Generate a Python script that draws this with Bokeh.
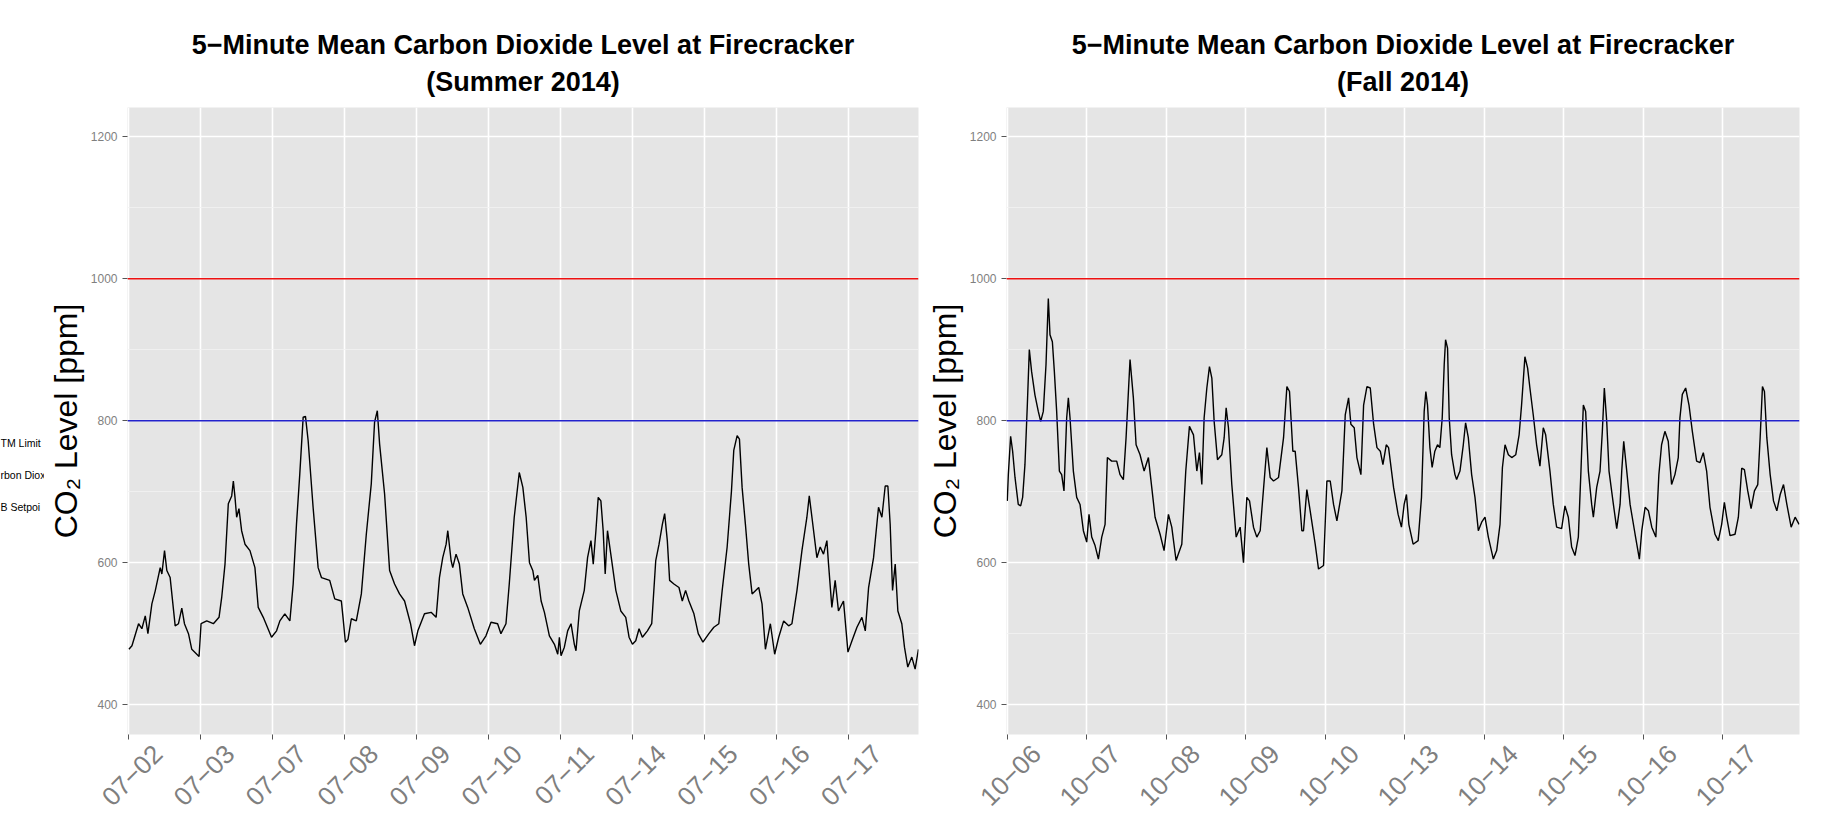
import math
from bokeh.plotting import figure
from bokeh.layouts import row
from bokeh.models import Range1d, FixedTicker, Span, Title, LinearAxis
from bokeh.core.properties import value
from bokeh.embed import file_html
from bokeh.resources import INLINE

FONT = "Liberation Sans"

# ---------------- data ----------------
summer_days = ["07−02", "07−03", "07−07", "07−08", "07−09", "07−10",
               "07−11", "07−14", "07−15", "07−16", "07−17"]
fall_days = ["10−06", "10−07", "10−08", "10−09", "10−10",
             "10−13", "10−14", "10−15", "10−16", "10−17"]

y_ticks = [400, 600, 800, 1000, 1200]
y_minor_ticks = [500, 700, 900, 1100]
limit_values = [1000, 800]
limit_colors = ["#ee1111", "#2222cc"]
legend_fragments = ["TM Limit", "rbon Diox", "B Setpoi"]
legend_fragment_levels = [768, 723, 679]

# position in working-day units (0 = start of first day), 5-min mean CO2 [ppm]
summer_pos = [0.000, 0.042, 0.134, 0.180, 0.227, 0.264, 0.319, 0.365, 0.435, 0.458,
              0.495, 0.527, 0.573, 0.643, 0.689, 0.735, 0.772, 0.828, 0.874, 0.975,
              1.003, 1.082, 1.174, 1.253, 1.290, 1.336, 1.382, 1.429, 1.452, 1.475,
              1.498, 1.530, 1.567, 1.614, 1.683, 1.752, 1.798, 1.868, 1.983, 2.053,
              2.099, 2.168, 2.238, 2.284, 2.330, 2.376, 2.423, 2.455, 2.492, 2.561,
              2.631, 2.677, 2.792, 2.862, 2.954, 2.977, 3.010, 3.046, 3.093, 3.162,
              3.232, 3.301, 3.370, 3.416, 3.454, 3.486, 3.555, 3.625, 3.694, 3.763,
              3.833, 3.916, 3.971, 4.018, 4.110, 4.202, 4.272, 4.318, 4.364, 4.411,
              4.434, 4.480, 4.503, 4.549, 4.595, 4.642, 4.711, 4.803, 4.887, 4.965,
              5.035, 5.127, 5.173, 5.243, 5.289, 5.358, 5.428, 5.478, 5.524, 5.570,
              5.616, 5.639, 5.686, 5.732, 5.778, 5.847, 5.917, 5.963, 5.986, 6.009,
              6.055, 6.101, 6.148, 6.194, 6.217, 6.263, 6.332, 6.378, 6.425, 6.457,
              6.494, 6.526, 6.563, 6.595, 6.623, 6.655, 6.701, 6.771, 6.840, 6.909,
              6.955, 7.002, 7.048, 7.094, 7.140, 7.210, 7.270, 7.326, 7.372, 7.418,
              7.450, 7.487, 7.519, 7.579, 7.649, 7.695, 7.741, 7.787, 7.857, 7.917,
              7.982, 8.065, 8.134, 8.203, 8.250, 8.319, 8.379, 8.411, 8.458, 8.490,
              8.527, 8.573, 8.619, 8.666, 8.758, 8.804, 8.851, 8.920, 8.980, 9.036,
              9.105, 9.174, 9.220, 9.290, 9.359, 9.428, 9.461, 9.498, 9.567, 9.613,
              9.659, 9.706, 9.729, 9.775, 9.821, 9.867, 9.937, 9.999, 10.055, 10.124,
              10.193, 10.240, 10.286, 10.355, 10.424, 10.471, 10.517, 10.554, 10.586, 10.619,
              10.656, 10.693, 10.748, 10.785, 10.831, 10.887, 10.933, 10.979]
summer_co2 = [478, 483, 514, 507, 525, 500, 542, 560, 593, 584,
              617, 589, 579, 511, 514, 536, 514, 500, 478, 468,
              514, 518, 514, 523, 551, 598, 683, 694, 715, 692,
              664, 676, 645, 626, 617, 593, 537, 523, 495, 504,
              518, 528, 518, 570, 654, 725, 805, 806, 772, 678,
              593, 579, 575, 549, 546, 523, 488, 492, 521, 518,
              556, 640, 711, 798, 814, 767, 697, 589, 570, 556,
              546, 514, 483, 504, 528, 530, 523, 579, 607, 626,
              645, 603, 593, 612, 598, 556, 537, 507, 485, 497,
              516, 514, 500, 514, 570, 664, 727, 706, 664, 600,
              589, 575, 582, 546, 530, 497, 485, 471, 495, 469,
              481, 504, 514, 485, 476, 532, 561, 607, 631, 598,
              645, 692, 687, 645, 584, 645, 612, 561, 532, 523,
              495, 485, 490, 507, 495, 504, 514, 603, 626, 654,
              669, 631, 575, 570, 565, 546, 561, 546, 528, 500,
              488, 500, 509, 514, 561, 622, 701, 758, 779, 774,
              706, 654, 598, 556, 565, 542, 478, 514, 471, 495,
              518, 511, 514, 561, 617, 664, 694, 664, 607, 622,
              612, 631, 598, 537, 575, 532, 546, 474, 490, 509,
              523, 504, 565, 607, 678, 664, 708, 708, 654, 561,
              598, 532, 514, 481, 453, 467, 450, 478]

fall_pos = [0.000, 0.013, 0.042, 0.067, 0.097, 0.138, 0.168, 0.193, 0.222, 0.252,
            0.277, 0.306, 0.348, 0.390, 0.420, 0.453, 0.487, 0.516, 0.537, 0.567,
            0.592, 0.621, 0.655, 0.684, 0.713, 0.747, 0.768, 0.789, 0.831, 0.873,
            0.915, 0.957, 0.999, 1.028, 1.062, 1.104, 1.146, 1.188, 1.230, 1.259,
            1.313, 1.376, 1.418, 1.460, 1.494, 1.515, 1.544, 1.586, 1.620, 1.670,
            1.721, 1.775, 1.817, 1.859, 1.922, 1.972, 2.027, 2.069, 2.123, 2.195,
            2.245, 2.291, 2.342, 2.384, 2.417, 2.447, 2.476, 2.510, 2.543, 2.573,
            2.602, 2.644, 2.698, 2.728, 2.753, 2.782, 2.824, 2.879, 2.929, 2.971,
            3.013, 3.047, 3.097, 3.139, 3.181, 3.231, 3.265, 3.307, 3.349, 3.412,
            3.475, 3.517, 3.550, 3.592, 3.621, 3.663, 3.705, 3.726, 3.768, 3.810,
            3.873, 3.915, 3.978, 4.020, 4.062, 4.104, 4.146, 4.209, 4.251, 4.293,
            4.322, 4.364, 4.398, 4.448, 4.482, 4.524, 4.566, 4.608, 4.650, 4.692,
            4.725, 4.767, 4.796, 4.859, 4.916, 4.958, 4.992, 5.021, 5.051, 5.105,
            5.168, 5.210, 5.244, 5.265, 5.286, 5.316, 5.344, 5.378, 5.412, 5.441,
            5.471, 5.496, 5.513, 5.538, 5.559, 5.589, 5.631, 5.652, 5.694, 5.736,
            5.765, 5.799, 5.841, 5.883, 5.925, 5.967, 6.009, 6.051, 6.114, 6.156,
            6.198, 6.228, 6.261, 6.303, 6.345, 6.396, 6.438, 6.469, 6.511, 6.545,
            6.574, 6.616, 6.658, 6.700, 6.742, 6.772, 6.826, 6.868, 6.910, 6.973,
            7.015, 7.057, 7.099, 7.141, 7.183, 7.216, 7.246, 7.275, 7.309, 7.351,
            7.372, 7.414, 7.456, 7.485, 7.510, 7.540, 7.569, 7.624, 7.666, 7.708,
            7.729, 7.754, 7.792, 7.834, 7.897, 7.951, 7.981, 8.023, 8.065, 8.107,
            8.158, 8.196, 8.230, 8.272, 8.314, 8.356, 8.398, 8.440, 8.461, 8.491,
            8.533, 8.575, 8.617, 8.671, 8.713, 8.755, 8.797, 8.839, 8.902, 8.944,
            8.986, 9.020, 9.049, 9.091, 9.154, 9.196, 9.238, 9.272, 9.314, 9.356,
            9.398, 9.440, 9.470, 9.499, 9.524, 9.554, 9.596, 9.638, 9.680, 9.722,
            9.764, 9.806, 9.860, 9.910, 9.960]
fall_co2 = [687, 724, 778, 757, 720, 682, 680, 692, 738, 822,
            900, 869, 836, 813, 799, 813, 879, 972, 921, 911,
            869, 813, 729, 724, 701, 804, 832, 804, 729, 692,
            682, 645, 629, 668, 636, 624, 605, 636, 654, 748,
            743, 743, 724, 717, 776, 822, 886, 832, 766, 752,
            729, 748, 706, 664, 640, 617, 668, 650, 603, 626,
            729, 792, 780, 729, 755, 710, 804, 846, 876, 860,
            799, 745, 752, 776, 818, 790, 710, 636, 650, 600,
            692, 687, 650, 636, 645, 715, 762, 720, 715, 720,
            776, 848, 841, 757, 757, 706, 645, 645, 703, 673,
            626, 591, 596, 715, 715, 682, 659, 701, 808, 832,
            795, 790, 748, 724, 822, 848, 846, 795, 762, 757,
            738, 766, 762, 706, 668, 650, 682, 696, 654, 626,
            631, 692, 813, 841, 822, 762, 734, 757, 766, 762,
            804, 879, 914, 902, 804, 752, 724, 717, 729, 766,
            797, 776, 724, 692, 645, 657, 664, 636, 605, 617,
            654, 734, 766, 752, 748, 752, 780, 822, 890, 874,
            846, 808, 766, 736, 790, 780, 729, 682, 650, 648,
            680, 664, 622, 610, 636, 729, 822, 813, 729, 682,
            664, 706, 729, 785, 846, 799, 729, 682, 648, 682,
            729, 771, 729, 682, 640, 605, 645, 678, 673, 650,
            636, 724, 766, 785, 771, 710, 724, 748, 804, 837,
            846, 822, 785, 743, 741, 755, 729, 678, 640, 631,
            654, 685, 664, 638, 640, 664, 733, 731, 701, 676,
            701, 710, 776, 848, 841, 776, 724, 687, 673, 696,
            710, 682, 650, 664, 654]

TITLE_MAIN = "5−Minute Mean Carbon Dioxide Level at Firecracker"
GREY_TXT = "#7f7f7f"
GREY_TICK = "#555555"

H = 820
B_TOP = 107
B_BOTTOM = 86
Y_RANGE = (358, 1241)


def make_panel(subtitle, pos, co2, days, x_start, x_end, width,
               border_left, border_right):
    p = figure(width=width, height=H,
               x_range=Range1d(x_start, x_end), y_range=Range1d(*Y_RANGE),
               output_backend="svg", toolbar_location=None,
               title=TITLE_MAIN,
               min_border_left=border_left, min_border_right=border_right,
               min_border_top=B_TOP, min_border_bottom=B_BOTTOM)
    p.title.text_font = FONT
    p.title.text_font_size = "27px"
    p.title.text_font_style = "bold"
    p.title.align = "center"
    p.title.text_color = "black"
    p.title.standoff = -13
    p.add_layout(Title(text=subtitle, text_font=FONT, text_font_size="27px",
                       text_font_style="bold", align="center",
                       text_color="black", standoff=22), "above")

    p.background_fill_color = "#e5e5e5"
    p.border_fill_color = "white"
    p.outline_line_color = None

    # y axis / grid
    yt = FixedTicker(ticks=y_ticks, minor_ticks=y_minor_ticks)
    p.yaxis.ticker = yt
    p.ygrid.ticker = yt
    p.yaxis.axis_line_color = None
    p.yaxis.major_tick_out = 5
    p.yaxis.major_tick_in = 0
    p.yaxis.minor_tick_out = 0
    p.yaxis.minor_tick_in = 0
    p.yaxis.major_tick_line_color = GREY_TICK
    p.yaxis.major_label_text_color = GREY_TXT
    p.yaxis.major_label_text_font = FONT
    p.yaxis.major_label_text_font_size = "12px"
    p.yaxis.major_label_standoff = 5
    p.yaxis.axis_label = "CO₂ Level [ppm]"
    p.yaxis.axis_label_text_font = FONT
    p.yaxis.axis_label_text_font_size = "32px"
    p.yaxis.axis_label_text_font_style = "normal"
    p.yaxis.axis_label_text_color = "black"
    p.yaxis.axis_label_standoff = 4
    p.ygrid.grid_line_color = "white"
    p.ygrid.grid_line_width = 1.6
    p.ygrid.minor_grid_line_color = "#f2f2f2"
    p.ygrid.minor_grid_line_width = 0.8

    # x axis: tick marks at day starts (labels drawn by second axis)
    n = len(days)
    xt = FixedTicker(ticks=list(range(n)))
    p.xaxis.ticker = xt
    p.xgrid.ticker = xt
    p.xaxis.axis_line_color = None
    p.xaxis.major_tick_out = 5
    p.xaxis.major_tick_in = 0
    p.xaxis.minor_tick_out = 0
    p.xaxis.minor_tick_in = 0
    p.xaxis.major_tick_line_color = GREY_TICK
    p.xaxis.major_label_text_color = None
    p.xaxis.major_label_text_font_size = "0px"
    p.xaxis.major_label_standoff = 0
    p.xgrid.grid_line_color = "white"
    p.xgrid.grid_line_width = 1.6

    # x axis: rotated day labels
    px_per_unit = (width - border_left - border_right) / (x_end - x_start)
    shift = 29.0 / px_per_unit
    lab_pos = [i + shift for i in range(n)]
    lab_axis = LinearAxis(ticker=FixedTicker(ticks=lab_pos),
                          major_label_overrides={lp: d for lp, d in zip(lab_pos, days)},
                          axis_line_color=None, major_tick_out=0, major_tick_in=0,
                          minor_tick_out=0, minor_tick_in=0,
                          major_label_orientation=math.pi / 4,
                          major_label_text_font=FONT,
                          major_label_text_font_size="26px",
                          major_label_text_color=GREY_TXT,
                          major_label_standoff=10)
    p.add_layout(lab_axis, "below")

    # limit lines
    for val, col in zip(limit_values, limit_colors):
        p.add_layout(Span(location=val, dimension="width", line_color=col, line_width=1.5))

    p.line(pos, co2, line_color="black", line_width=1.4)
    return p


# clipped legend of a neighbouring panel (only the ends of its labels show)
p0 = figure(width=44, height=H, x_range=Range1d(0, 1), y_range=Range1d(*Y_RANGE),
            output_backend="svg", toolbar_location=None,
            x_axis_type=None, y_axis_type=None,
            min_border_left=0, min_border_right=0,
            min_border_top=B_TOP, min_border_bottom=B_BOTTOM)
p0.outline_line_color = None
p0.grid.visible = False
p0.text(x=[0] * len(legend_fragments), y=legend_fragment_levels, text=legend_fragments,
        text_font=value(FONT), text_font_size="10.5px", text_color="black",
        text_baseline="middle", text_align="left")

p1 = make_panel("(Summer 2014)", summer_pos, summer_co2, summer_days,
                -0.02, 10.98, 876, 82, 2)
p2 = make_panel("(Fall 2014)", fall_pos, fall_co2, fall_days,
                -0.01, 9.965, 901, 86, 22)

layout = row(p0, p1, p2)
open("out.html", "w").write(file_html(layout, INLINE))
